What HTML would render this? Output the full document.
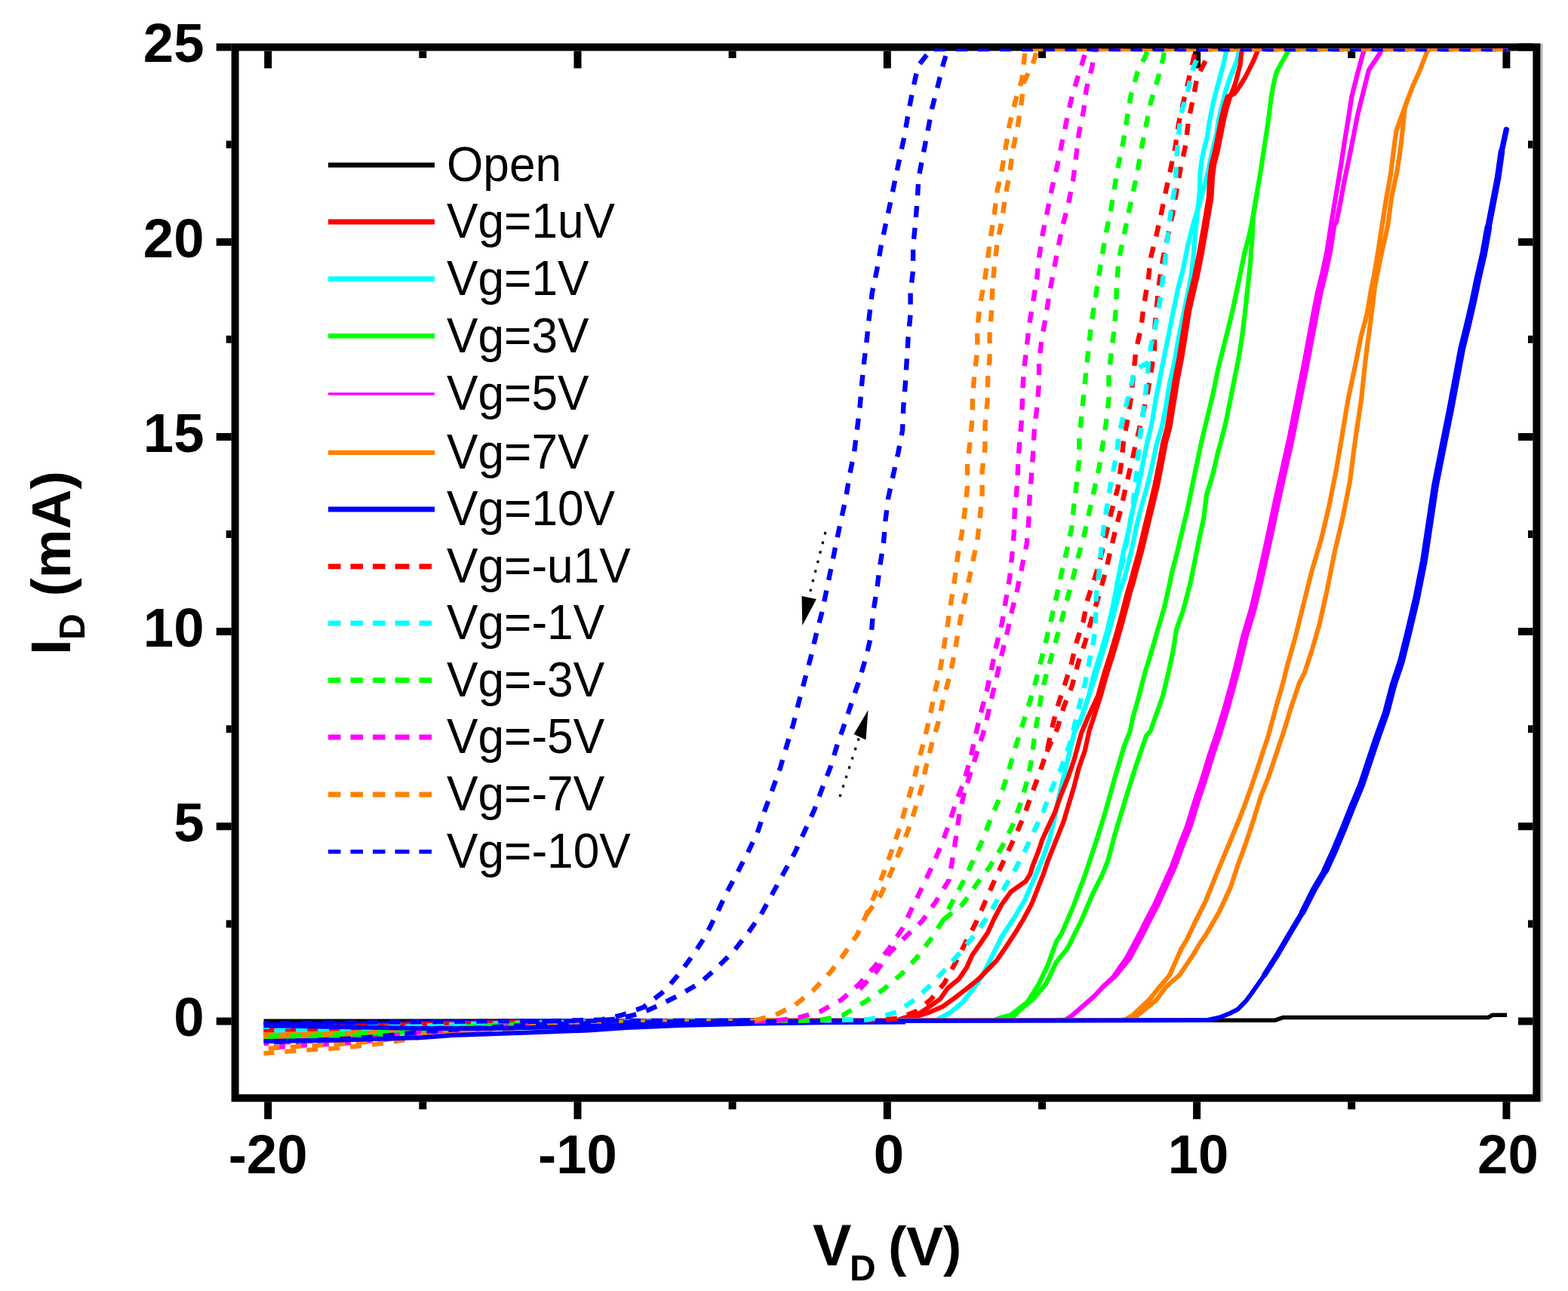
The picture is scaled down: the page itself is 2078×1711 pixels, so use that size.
<!DOCTYPE html>
<html><head><meta charset="utf-8"><title>I-V curves</title>
<style>
html,body{margin:0;padding:0;background:#fff;}
body{width:2078px;height:1711px;overflow:hidden;}
svg{display:block;}
.tl{font-family:"Liberation Sans",Arial,sans-serif;font-weight:bold;font-size:72.5px;fill:#000;}
.lg{font-family:"Liberation Sans",Arial,sans-serif;font-weight:normal;font-size:65.2px;fill:#000;}
.at{font-family:"Liberation Sans",Arial,sans-serif;font-weight:bold;font-size:73px;fill:#000;}
.sub{font-size:48px;}
</style></head>
<body>
<svg width="2078" height="1711" viewBox="0 0 2078 1711">
<rect width="2078" height="1711" fill="#fff"/>
<rect x="2041.2" y="57.8" width="3.4" height="1402.1" fill="#bdbdbd"/><rect x="311.6" y="62.5" width="1724.8" height="1392.8" fill="none" stroke="#000" stroke-width="10" stroke-linejoin="miter"/><path d="M355.2,1460.2V1483.2M355.2,67.4V90.4M560.3,1460.2V1470.2M560.3,67.4V76.9M765.5,1460.2V1483.2M765.5,67.4V90.4M970.6,1460.2V1470.2M970.6,67.4V76.9M1175.8,1460.2V1483.2M1175.8,67.4V90.4M1381.0,1460.2V1470.2M1381.0,67.4V76.9M1586.1,1460.2V1483.2M1586.1,67.4V90.4M1791.2,1460.2V1470.2M1791.2,67.4V76.9M1996.4,1460.2V1483.2M1996.4,67.4V90.4M306.7,1353.5H286.7M2031.5,1353.5H2012.0M306.7,1224.4H299.7M2031.5,1224.4H2025.0M306.7,1095.3H286.7M2031.5,1095.3H2012.0M306.7,966.2H299.7M2031.5,966.2H2025.0M306.7,837.1H286.7M2031.5,837.1H2012.0M306.7,708.0H299.7M2031.5,708.0H2025.0M306.7,578.9H286.7M2031.5,578.9H2012.0M306.7,449.8H299.7M2031.5,449.8H2025.0M306.7,320.7H286.7M2031.5,320.7H2012.0M306.7,191.6H299.7M2031.5,191.6H2025.0M306.7,62.5H286.7M2031.5,62.5H2012.0" stroke="#000" stroke-width="10" fill="none"/>
<defs><clipPath id="pc"><rect x="317" y="64.4" width="1714" height="1386"/></clipPath></defs>
<g fill="none" stroke-linejoin="round" stroke-linecap="butt" clip-path="url(#pc)">
<polyline points="349.5,1353.3 1690.0,1352.2 1700.0,1348.6 1972.0,1348.6 1978.0,1345.2 1997.0,1345.2" stroke="#000000" stroke-width="5.5"/>
<polyline points="349.5,1364.0 400.0,1363.0 450.0,1362.2 500.0,1360.8 560.0,1358.4 620.0,1356.6 700.0,1354.8 800.0,1353.7 900.0,1353.1 1000.0,1352.7 1100.0,1352.5" stroke="#ff0000" stroke-width="6.0" stroke-dashoffset="0.0"/>
<polyline points="349.5,1366.0 400.0,1364.8 450.0,1363.8 500.0,1362.2 560.0,1359.4 620.0,1357.4 700.0,1355.2 800.0,1353.8 900.0,1353.2 1000.0,1352.8 1100.0,1352.5" stroke="#ff0000" stroke-width="6.0" stroke-dashoffset="7.3"/>
<polyline points="349.5,1363.0 400.0,1362.1 450.0,1361.3 500.0,1360.1 560.0,1357.9 620.0,1356.3 700.0,1354.6 800.0,1353.5 900.0,1353.0 1000.0,1352.7 1100.0,1352.5" stroke="#00ffff" stroke-width="6.0" stroke-dashoffset="14.6"/>
<polyline points="349.5,1367.0 400.0,1365.7 450.0,1364.7 500.0,1362.9 560.0,1359.9 620.0,1357.7 700.0,1355.4 800.0,1354.0 900.0,1353.2 1000.0,1352.8 1100.0,1352.5" stroke="#00ffff" stroke-width="6.0" stroke-dashoffset="21.9"/>
<polyline points="349.5,1372.0 400.0,1370.2 450.0,1368.9 500.0,1366.5 560.0,1362.4 620.0,1359.5 700.0,1356.4 800.0,1354.5 900.0,1353.5 1000.0,1352.9 1100.0,1352.5" stroke="#00ff00" stroke-width="6.0" stroke-dashoffset="0.2"/>
<polyline points="349.5,1378.0 400.0,1375.7 450.0,1373.9 500.0,1370.9 560.0,1365.5 620.0,1361.7 700.0,1357.6 800.0,1355.0 900.0,1353.8 1000.0,1353.0 1100.0,1352.5" stroke="#00ff00" stroke-width="6.0" stroke-dashoffset="7.5"/>
<polyline points="349.5,1369.0 400.0,1367.5 450.0,1366.4 500.0,1364.4 560.0,1360.9 620.0,1358.4 700.0,1355.8 800.0,1354.2 900.0,1353.3 1000.0,1352.8 1100.0,1352.5" stroke="#ff00ff" stroke-width="6.0" stroke-dashoffset="14.8"/>
<polyline points="349.5,1372.0 400.0,1370.2 450.0,1368.9 500.0,1366.5 560.0,1362.4 620.0,1359.5 700.0,1356.4 800.0,1354.5 900.0,1353.5 1000.0,1352.9 1100.0,1352.5" stroke="#ff00ff" stroke-width="6.0" stroke-dashoffset="22.1"/>
<polyline points="349.5,1371.0 400.0,1369.3 450.0,1368.0 500.0,1365.8 560.0,1361.9 620.0,1359.2 700.0,1356.2 800.0,1354.3 900.0,1353.4 1000.0,1352.9 1100.0,1352.5" stroke="#ff8000" stroke-width="6.0" stroke-dashoffset="0.4"/>
<polyline points="349.5,1375.0 400.0,1373.0 450.0,1371.4 500.0,1368.7 560.0,1364.0 620.0,1360.6 700.0,1357.0 800.0,1354.8 900.0,1353.6 1000.0,1353.0 1100.0,1352.5" stroke="#ff8000" stroke-width="6.0" stroke-dashoffset="7.7"/>
<polyline points="349.5,1358.0 400.0,1357.5 450.0,1357.1 500.0,1356.5 560.0,1355.3 620.0,1354.5 700.0,1353.6 800.0,1353.0 900.0,1352.8 1000.0,1352.6 1100.0,1352.5" stroke="#0000ff" stroke-width="6.0" stroke-dashoffset="15.0"/>
<polyline points="349.5,1362.0 400.0,1361.1 450.0,1360.5 500.0,1359.3 560.0,1357.3 620.0,1355.9 700.0,1354.4 800.0,1353.5 900.0,1353.0 1000.0,1352.7 1100.0,1352.5" stroke="#ff0000" stroke-width="6.0" stroke-dasharray="15 14" stroke-dashoffset="22.3"/>
<polyline points="349.5,1365.0 400.0,1363.9 450.0,1363.0 500.0,1361.5 560.0,1358.9 620.0,1357.0 700.0,1355.0 800.0,1353.8 900.0,1353.1 1000.0,1352.8 1100.0,1352.5" stroke="#ff0000" stroke-width="6.0" stroke-dasharray="15 14" stroke-dashoffset="0.6"/>
<polyline points="349.5,1361.0 400.0,1360.2 450.0,1359.6 500.0,1358.6 560.0,1356.8 620.0,1355.6 700.0,1354.2 800.0,1353.3 900.0,1352.9 1000.0,1352.7 1100.0,1352.5" stroke="#00ffff" stroke-width="6.0" stroke-dasharray="15 14" stroke-dashoffset="7.9"/>
<polyline points="349.5,1366.0 400.0,1364.8 450.0,1363.8 500.0,1362.2 560.0,1359.4 620.0,1357.4 700.0,1355.2 800.0,1353.8 900.0,1353.2 1000.0,1352.8 1100.0,1352.5" stroke="#00ffff" stroke-width="6.0" stroke-dasharray="15 14" stroke-dashoffset="15.2"/>
<polyline points="349.5,1374.0 400.0,1372.1 450.0,1370.6 500.0,1368.0 560.0,1363.5 620.0,1360.2 700.0,1356.8 800.0,1354.7 900.0,1353.6 1000.0,1352.9 1100.0,1352.5" stroke="#00ff00" stroke-width="6.0" stroke-dasharray="15 14" stroke-dashoffset="22.5"/>
<polyline points="349.5,1379.0 400.0,1376.6 450.0,1374.8 500.0,1371.6 560.0,1366.0 620.0,1362.0 700.0,1357.8 800.0,1355.2 900.0,1353.8 1000.0,1353.0 1100.0,1352.5" stroke="#00ff00" stroke-width="6.0" stroke-dasharray="15 14" stroke-dashoffset="0.8"/>
<polyline points="349.5,1383.0 400.0,1380.3 450.0,1378.1 500.0,1374.5 560.0,1368.1 620.0,1363.5 700.0,1358.6 800.0,1355.5 900.0,1354.0 1000.0,1353.1 1100.0,1352.5" stroke="#ff00ff" stroke-width="6.0" stroke-dasharray="15 14" stroke-dashoffset="8.1"/>
<polyline points="349.5,1389.0 400.0,1385.7 450.0,1383.2 500.0,1378.8 560.0,1371.1 620.0,1365.6 700.0,1359.8 800.0,1356.2 900.0,1354.3 1000.0,1353.2 1100.0,1352.5" stroke="#ff00ff" stroke-width="6.0" stroke-dasharray="15 14" stroke-dashoffset="15.4"/>
<polyline points="349.5,1390.0 400.0,1386.6 450.0,1384.0 500.0,1379.5 560.0,1371.6 620.0,1366.0 700.0,1360.0 800.0,1356.2 900.0,1354.4 1000.0,1353.2 1100.0,1352.5" stroke="#ff8000" stroke-width="6.0" stroke-dasharray="15 14" stroke-dashoffset="22.7"/>
<polyline points="349.5,1396.0 400.0,1392.1 450.0,1389.0 500.0,1383.8 560.0,1374.7 620.0,1368.2 700.0,1361.2 800.0,1356.8 900.0,1354.7 1000.0,1353.4 1100.0,1352.5" stroke="#ff8000" stroke-width="6.0" stroke-dasharray="15 14" stroke-dashoffset="1.0"/>
<polyline points="349.5,1356.0 400.0,1355.7 450.0,1355.4 500.0,1355.0 560.0,1354.3 620.0,1353.8 700.0,1353.2 800.0,1352.8 900.0,1352.7 1000.0,1352.6 1100.0,1352.5" stroke="#0000ff" stroke-width="6.0" stroke-dasharray="15 14" stroke-dashoffset="8.3"/>
<polyline points="349.5,1382.0 400.0,1379.3 450.0,1377.3 500.0,1373.7 560.0,1367.5 620.0,1363.1 700.0,1358.4 800.0,1355.5 900.0,1354.0 1000.0,1353.1 1100.0,1352.5" stroke="#0000ff" stroke-width="6.0" stroke-dasharray="15 14" stroke-dashoffset="15.6"/>
<polyline points="349.5,1359.0 450.0,1361.0 560.0,1363.0 650.0,1363.0 750.0,1361.0 850.0,1358.0 1000.0,1355.5 1100.0,1354.5 1200.0,1354.0" stroke="#0000ff" stroke-width="6.0"/>
<polyline points="349.5,1380.0 450.0,1378.5 560.0,1375.0 600.0,1372.0 700.0,1368.5 780.0,1365.5 830.0,1362.0 900.0,1359.0 1000.0,1356.5 1100.0,1355.0 1200.0,1354.5" stroke="#0000ff" stroke-width="6.0"/>
<polyline points="1000.0,1352.5 1240.0,1352.0 1249.0,1347.7 1260.0,1341.5 1276.0,1328.0 1290.5,1309.6 1303.0,1291.2 1315.0,1266.6 1327.3,1242.0 1343.3,1217.5 1358.0,1193.0 1371.5,1162.3 1382.7,1135.3 1390.9,1112.0 1397.9,1082.7 1403.8,1053.5 1410.8,1024.3 1417.8,995.1 1424.2,968.7 1433.5,951.2 1442.9,922.0 1449.9,892.7 1459.2,863.5 1467.4,835.5 1474.4,805.1 1480.4,775.0 1482.9,761.2 1488.7,732.0 1495.7,702.7 1501.6,673.5 1508.6,644.3 1514.4,615.1 1519.5,590.0 1526.7,560.0 1531.9,527.9 1537.0,502.2 1543.4,470.0 1548.6,444.3 1555.0,412.1 1561.4,381.3 1567.9,356.7 1574.2,325.2 1580.5,300.0 1588.0,275.0 1598.0,240.0 1605.2,207.2 1608.4,191.5 1612.6,175.7 1614.7,159.9 1617.8,146.2 1621.0,133.6 1624.2,121.0 1628.4,107.3 1633.6,93.7 1638.9,81.0 1642.0,68.4 1643.5,65.0 1998.5,65.0" stroke="#00ffff" stroke-width="6.2"/>
<polyline points="1430.0,960.0 1442.0,925.0 1452.0,895.0 1461.0,866.0 1470.0,836.0 1478.0,806.0 1485.0,780.0 1489.9,767.0 1494.6,749.5 1501.6,720.3 1506.2,696.9 1512.1,673.5 1520.3,644.3 1527.3,615.1 1533.1,587.0 1539.6,566.4 1544.7,540.7 1549.9,508.6 1556.3,480.3 1561.4,450.7 1567.9,418.6 1575.6,381.3 1578.5,365.0 1581.5,341.0 1583.6,314.7 1586.8,283.1 1590.0,251.6 1590.5,228.3 1592.6,212.5 1595.8,196.7 1600.0,181.0 1602.1,165.2 1605.2,149.4 1608.4,133.6 1612.6,117.8 1616.8,102.1 1621.0,86.3 1625.2,68.4 1625.8,65.0" stroke="#00ffff" stroke-width="6.2"/>
<polyline points="1190.0,1352.0 1198.0,1349.0 1217.0,1344.0 1232.0,1334.0 1246.0,1324.0 1256.0,1309.6 1271.0,1297.3 1281.0,1282.6 1288.0,1266.6 1299.0,1250.7 1309.0,1236.0 1317.5,1217.5 1327.3,1199.0 1339.6,1182.0 1359.3,1168.0 1365.2,1158.7 1368.7,1147.0 1375.7,1129.5 1381.6,1112.0 1389.7,1094.4 1397.9,1076.9 1406.1,1053.5 1415.5,1030.1 1423.6,1006.8 1433.0,971.7 1441.7,951.0 1455.1,922.0 1463.3,892.7 1472.6,863.5 1480.8,835.5 1489.0,805.1 1494.2,785.0 1498.2,772.0 1502.7,755.0 1509.1,732.0 1516.1,702.7 1523.2,673.5 1530.2,644.3 1536.0,615.1 1541.2,587.0 1546.8,566.4 1551.9,534.3 1557.1,502.2 1562.2,476.4 1567.4,444.3 1572.5,412.1 1576.6,393.5 1582.9,367.2 1589.2,335.7 1595.5,298.9 1601.8,262.0 1603.4,233.5 1605.5,217.8 1609.7,202.0 1612.9,186.2 1616.0,170.4 1619.2,154.7 1622.4,142.0 1626.6,128.4 1635.7,124.2 1639.9,118.9 1645.2,110.5 1650.4,102.1 1655.7,91.6 1661.0,81.0 1666.2,68.4 1667.0,65.0" stroke="#ff0000" stroke-width="6.2"/>
<polyline points="1000.0,1352.5 1190.0,1352.2 1198.0,1350.0 1217.0,1346.4 1232.0,1341.5 1249.0,1334.2 1266.0,1322.0 1282.0,1309.6 1297.0,1297.3 1309.0,1285.0 1321.0,1272.8 1333.5,1254.4 1345.7,1236.0 1356.8,1217.5 1367.8,1196.7 1376.4,1174.6 1383.0,1158.0 1388.6,1141.2 1395.6,1123.6 1402.6,1106.1 1409.6,1088.6 1416.6,1065.2 1423.6,1041.8 1429.5,1018.4 1437.7,995.1 1443.5,968.7 1449.3,951.2 1458.7,922.0 1466.9,892.7 1476.2,863.5 1484.4,835.5 1492.6,805.1 1497.8,785.0 1501.8,772.0 1506.3,755.0 1512.7,732.0 1519.7,702.7 1526.8,673.5 1533.8,644.3 1539.6,615.1 1544.8,587.0 1550.4,566.4 1555.5,534.3 1560.7,502.2 1565.8,476.4 1571.0,444.3 1576.1,412.1 1580.2,393.5 1586.5,367.2 1592.8,335.7 1599.1,298.9 1605.4,262.0 1607.0,233.5 1609.1,217.8 1613.3,202.0 1616.5,186.2 1619.6,170.4 1622.8,154.7 1626.0,142.0 1630.2,128.4 1634.4,117.8 1637.5,109.4 1640.7,96.8 1643.5,86.3 1645.5,68.4 1646.5,65.0 1998.5,65.0" stroke="#ff0000" stroke-width="6.2"/>
<polyline points="1000.0,1352.5 1318.0,1352.0 1327.0,1348.5 1339.6,1345.2 1361.7,1328.0 1376.4,1304.7 1388.7,1278.9 1399.8,1248.2 1407.1,1236.8 1422.2,1201.6 1437.3,1161.4 1452.4,1116.1 1464.9,1075.9 1477.5,1030.7 1490.1,988.0 1497.8,968.7 1501.3,951.2 1509.5,922.0 1517.0,892.7 1526.0,863.5 1534.0,835.5 1543.0,805.1 1550.4,772.3 1552.5,761.2 1560.0,732.0 1567.0,702.7 1574.0,673.5 1580.0,644.3 1586.0,615.1 1593.0,582.3 1600.0,553.6 1607.7,521.4 1614.2,489.3 1620.6,463.6 1627.0,437.9 1633.4,412.1 1639.0,385.0 1644.0,361.6 1649.0,336.4 1655.7,311.3 1660.7,286.2 1665.8,256.0 1670.8,225.9 1675.8,193.2 1680.8,160.5 1684.5,130.0 1688.0,110.0 1692.0,95.0 1697.3,85.1 1706.0,70.0 1709.0,65.0 1998.5,65.0" stroke="#00ff00" stroke-width="6.2"/>
<polyline points="1340.0,1350.0 1352.0,1338.0 1369.1,1324.3 1386.3,1303.5 1399.8,1275.2 1414.7,1256.9 1432.3,1221.7 1447.3,1186.5 1461.1,1158.7 1468.1,1141.2 1477.4,1106.1 1492.6,1055.8 1505.2,1015.6 1519.0,975.4 1524.7,968.7 1532.9,945.3 1541.1,922.0 1548.1,892.7 1554.5,863.5 1559.0,834.3 1567.7,810.0 1577.5,772.9 1583.4,743.6 1589.2,714.4 1595.1,687.5 1599.0,656.0 1608.0,625.8 1614.2,598.6 1618.0,585.7 1624.4,560.0 1629.6,534.3 1636.0,502.2 1641.2,476.4 1646.3,444.3 1650.2,412.1 1653.5,381.3 1657.0,349.0 1659.5,315.0 1660.7,286.2 1665.8,256.0" stroke="#00ff00" stroke-width="6.2"/>
<polyline points="1000.0,1352.5 1400.0,1352.0 1412.0,1351.5 1420.2,1346.3 1442.3,1327.2 1450.3,1320.0 1462.4,1307.1 1475.3,1295.0 1482.5,1284.5 1492.8,1270.0 1502.6,1251.8 1512.0,1234.0 1521.0,1216.0 1530.0,1199.1 1540.1,1176.4 1552.7,1148.8 1562.7,1121.2 1572.8,1096.0 1582.8,1063.4 1592.9,1033.2 1602.9,1000.5 1613.0,970.4 1623.0,937.7 1632.0,905.0 1638.5,880.0 1647.0,844.4 1658.2,806.7 1668.3,764.0 1678.3,718.8 1688.4,671.0 1698.4,625.8 1708.5,580.5 1718.5,530.3 1728.0,482.5 1735.0,445.0 1741.2,411.8 1746.2,386.7 1752.5,361.6 1758.8,331.4 1763.8,298.8 1768.8,268.6 1772.6,246.0 1777.6,215.8 1781.4,190.7 1786.4,160.5 1791.4,127.9 1799.0,97.7 1806.5,70.0 1808.0,65.0 1998.5,65.0" stroke="#ff00ff" stroke-width="6.2"/>
<polyline points="1462.4,1307.1 1476.8,1295.0 1485.5,1284.5 1497.3,1270.0 1507.1,1251.8 1516.5,1234.0 1525.5,1216.0 1534.5,1199.1 1544.6,1176.4 1557.2,1148.8 1567.2,1121.2 1577.3,1096.0 1587.3,1063.4 1597.4,1033.2 1607.4,1000.5 1617.5,970.4 1627.5,937.7 1636.5,905.0 1643.0,880.0 1651.5,844.4 1662.7,806.7 1672.8,764.0 1682.8,718.8 1692.9,671.0 1702.9,625.8 1713.0,580.5 1723.0,530.3 1732.5,482.5 1739.5,445.0 1745.7,411.8 1750.7,386.7 1757.0,361.6 1763.3,331.4 1768.3,298.8 1771.3,293.7 1776.3,268.6 1781.4,241.0 1787.7,210.8 1792.7,185.7 1799.0,153.0 1806.5,122.8 1814.0,92.7 1829.1,70.0 1831.0,65.0" stroke="#ff00ff" stroke-width="6.2"/>
<polyline points="1000.0,1352.5 1485.0,1352.0 1492.0,1351.0 1500.3,1346.3 1524.0,1324.0 1535.0,1310.0 1550.0,1292.5 1565.2,1258.0 1572.0,1247.0 1582.8,1224.2 1597.9,1194.0 1613.0,1156.3 1625.6,1126.2 1638.1,1096.0 1648.2,1070.9 1660.7,1035.7 1670.8,1005.6 1680.8,975.4 1690.9,937.7 1701.0,902.5 1706.0,882.1 1716.0,846.9 1726.0,806.7 1738.6,756.4 1751.2,713.7 1761.3,671.0 1771.3,620.7 1778.9,575.5 1786.4,530.3 1796.4,482.5 1804.0,444.5 1811.5,416.9 1816.6,386.7 1821.6,361.6 1826.6,331.4 1831.6,298.8 1836.7,266.1 1843.0,230.9 1846.7,200.7 1850.5,173.1 1856.8,155.5 1864.3,135.4 1871.8,115.3 1881.9,92.7 1890.7,70.0 1892.5,65.0 1998.5,65.0" stroke="#ff8000" stroke-width="6.2"/>
<polyline points="1500.0,1351.5 1512.0,1342.0 1532.8,1325.0 1545.0,1308.0 1563.0,1292.5 1580.3,1266.9 1590.4,1250.0 1597.9,1239.3 1615.5,1209.1 1630.6,1176.4 1640.6,1146.3 1650.7,1118.6 1660.7,1088.5 1670.8,1055.8 1680.8,1030.7 1690.9,1000.5 1701.0,970.4 1711.0,937.7 1722.0,905.0 1728.6,892.2 1738.6,862.0 1748.7,826.8 1758.8,781.6 1768.8,731.3 1778.9,688.6 1788.9,638.3 1796.4,580.5 1804.0,530.3 1809.0,482.5 1811.5,462.1 1816.6,424.4 1822.0,380.0 1830.0,340.0 1839.2,298.8 1844.2,261.1 1851.7,225.9 1856.8,190.7 1861.8,142.9 1866.0,130.0" stroke="#ff8000" stroke-width="6.2"/>
<polyline points="1000.0,1354.0 1100.0,1353.0 1600.0,1352.0 1615.4,1348.8 1630.0,1343.0 1640.4,1337.6 1650.7,1327.2 1658.2,1317.2 1675.8,1292.1 1693.4,1264.4 1711.0,1234.3 1726.1,1209.1 1741.2,1179.0 1756.2,1153.8 1768.8,1126.2 1781.4,1096.0 1791.4,1070.9 1804.0,1040.7 1814.0,1010.6 1824.1,980.4 1836.7,945.2 1846.7,907.2 1856.8,877.1 1866.8,836.9 1876.9,794.1 1886.9,743.9 1894.5,693.6 1902.0,643.4 1912.0,593.1 1922.1,542.8 1932.0,490.0 1937.2,462.1 1944.7,432.0 1952.3,399.3 1958.6,369.1 1966.1,336.4 1972.4,301.3 1978.7,268.6 1985.0,235.9 1990.0,200.7 1996.3,171.8" stroke="#0000ff" stroke-width="6.0"/>
<polyline points="1675.8,1292.1 1693.4,1264.4 1711.0,1234.3 1726.1,1209.1 1741.2,1179.0 1756.2,1153.8 1768.8,1126.2 1781.4,1096.0 1791.4,1070.9 1804.0,1040.7 1814.0,1010.6 1824.1,980.4 1836.7,945.2 1846.7,907.2 1856.8,877.1 1866.8,836.9 1876.9,794.1 1886.9,743.9 1894.5,693.6 1902.0,643.4 1912.0,593.1 1922.1,542.8 1932.0,490.0 1937.2,462.1 1944.7,432.0 1952.3,399.3 1958.6,369.1 1966.1,336.4 1972.4,301.3 1978.7,268.6 1985.0,235.9 1990.0,200.7 1996.3,171.8" stroke="#0000ff" stroke-width="7.4" stroke-linecap="round"/>
<polyline points="1726.1,1209.1 1741.2,1179.0 1756.2,1153.8 1768.8,1126.2 1781.4,1096.0 1791.4,1070.9 1804.0,1040.7 1814.0,1010.6 1824.1,980.4 1836.7,945.2 1846.7,907.2 1856.8,877.1 1866.8,836.9 1876.9,794.1 1886.9,743.9 1894.5,693.6 1902.0,643.4 1912.0,593.1 1922.1,542.8 1932.0,490.0 1937.2,462.1 1944.7,432.0 1952.3,399.3 1958.6,369.1 1966.1,336.4 1972.4,301.3 1978.7,268.6 1985.0,235.9 1990.0,200.7" stroke="#0000ff" stroke-width="8.6" stroke-linecap="round"/>
<polyline points="1756.2,1153.8 1768.8,1126.2 1781.4,1096.0 1791.4,1070.9 1804.0,1040.7 1814.0,1010.6 1824.1,980.4 1836.7,945.2 1846.7,907.2 1856.8,877.1 1866.8,836.9 1876.9,794.1 1886.9,743.9 1894.5,693.6 1902.0,643.4 1912.0,593.1 1922.1,542.8 1932.0,490.0 1937.2,462.1 1944.7,432.0 1952.3,399.3 1958.6,369.1 1966.1,336.4 1972.4,301.3" stroke="#0000ff" stroke-width="9.8" stroke-linecap="round"/>
<polyline points="1000.0,1353.0 1120.0,1352.0 1165.0,1351.5 1190.0,1350.0 1215.0,1340.0 1234.0,1324.3 1251.2,1303.5 1265.9,1276.5 1280.7,1247.0 1293.0,1223.7 1306.5,1193.0 1320.0,1162.3 1331.3,1138.8 1344.2,1110.8 1357.0,1081.6 1366.4,1054.7 1376.9,1026.6 1387.4,996.2 1393.8,966.4 1400.8,938.3 1410.1,910.3 1419.5,881.0 1426.5,851.8 1435.8,822.6 1441.7,793.4 1451.3,764.7 1459.5,735.5 1466.5,705.1 1473.5,675.8 1481.7,645.5 1485.8,615.1 1489.0,585.0 1494.6,554.9 1499.1,525.3 1502.3,494.4 1505.5,463.6 1512.3,434.0 1515.8,404.4 1521.3,374.1 1525.0,341.5 1532.6,311.3 1538.8,283.7 1545.2,252.3 1551.5,223.4 1557.8,193.2 1561.6,165.6 1567.9,136.7 1575.4,105.2 1582.9,72.6 1584.5,65.0 1998.5,65.0" stroke="#ff0000" stroke-width="6.4" stroke-dasharray="15 14"/>
<polyline points="1387.4,996.2 1401.0,966.0 1410.1,936.0 1420.7,909.1 1428.8,878.7 1438.2,850.7 1446.4,821.4 1456.9,787.5 1464.2,761.2 1471.2,732.0 1478.2,702.7 1485.8,673.5 1492.2,644.3 1499.2,615.1 1505.5,587.0 1512.6,557.4 1520.3,524.0 1525.4,493.2 1529.9,463.6 1530.1,437.0 1533.0,405.0 1536.3,374.1 1541.4,341.5 1547.6,313.8 1553.9,283.7 1559.7,251.0 1564.7,222.1 1571.6,190.7 1574.8,160.5 1581.0,131.6 1586.7,101.5 1600.5,75.1 1602.5,65.0" stroke="#ff0000" stroke-width="6.4" stroke-dasharray="15 14"/>
<polyline points="1000.0,1353.0 1100.0,1352.0 1150.5,1351.4 1188.6,1341.5 1213.1,1324.3 1232.8,1305.9 1256.1,1281.4 1275.8,1258.0 1295.4,1234.7 1312.6,1208.9 1327.3,1183.1 1343.0,1156.4 1357.0,1130.7 1369.9,1102.6 1382.7,1075.7 1393.3,1046.5 1406.1,1018.4 1418.0,985.0 1428.0,945.0 1438.0,905.0 1445.0,870.0 1449.9,846.0 1452.2,816.8 1452.8,787.5 1456.6,757.7 1459.5,726.1 1463.0,696.9 1467.7,666.5 1472.9,636.1 1479.4,604.5 1483.0,575.4 1490.1,545.9 1498.4,515.0 1503.6,490.0 1522.2,480.3 1525.4,458.4 1531.9,428.9 1538.3,392.9 1541.0,370.0 1545.1,336.4 1548.9,301.3 1553.0,271.1 1557.8,243.5 1559.0,213.3 1561.6,180.6 1565.3,150.5 1574.1,120.3 1581.7,88.9 1590.5,68.8 1592.0,65.0 1998.5,65.0" stroke="#00ffff" stroke-width="6.4" stroke-dasharray="15 14"/>
<polyline points="1522.2,480.3 1519.0,513.7 1515.2,544.6 1511.3,574.2 1508.6,601.0 1505.1,636.1 1501.6,667.7 1496.9,696.9 1492.0,725.0 1487.0,750.0 1480.0,775.0" stroke="#00ffff" stroke-width="6.4" stroke-dasharray="15 14"/>
<polyline points="1000.0,1353.0 1060.0,1352.5 1090.4,1351.4 1117.9,1345.1 1147.0,1327.2 1169.6,1312.2 1193.5,1292.1 1214.9,1269.4 1233.7,1244.3 1250.1,1219.2 1263.9,1191.5 1277.7,1166.4 1290.3,1138.8 1303.2,1110.8 1313.8,1082.7 1326.6,1053.5 1336.0,1024.3 1344.2,995.1 1353.5,965.8 1362.8,936.0 1371.6,906.8 1379.2,877.5 1386.8,847.1 1393.8,817.9 1400.8,787.5 1406.9,758.8 1413.9,729.6 1420.3,699.2 1423.2,670.0 1426.8,640.8 1430.3,609.2 1430.3,582.3 1433.5,548.4 1436.7,518.9 1439.9,486.7 1443.1,457.1 1446.4,427.6 1452.1,392.9 1456.1,366.6 1461.2,335.2 1466.2,306.3 1472.5,276.1 1477.5,246.0 1482.5,217.1 1488.8,186.9 1493.8,155.5 1498.9,125.3 1507.6,95.2 1518.8,72.6 1521.0,65.0 1998.5,65.0" stroke="#00ff00" stroke-width="6.4" stroke-dasharray="15 14"/>
<polyline points="1250.0,1219.0 1275.2,1199.1 1292.8,1173.9 1311.6,1148.8 1327.8,1122.5 1341.8,1094.4 1352.3,1065.2 1361.7,1033.6 1367.5,1004.4 1371.0,975.2 1376.2,945.3 1380.9,916.1 1388.5,886.9 1397.3,856.5 1405.5,827.3 1413.6,796.9 1421.5,768.2 1428.5,739.0 1436.7,709.7 1443.1,680.5 1450.1,649.0 1456.6,619.7 1461.8,587.0 1466.2,557.9 1469.5,527.9 1469.5,495.7 1472.7,467.4 1476.6,436.6 1479.1,405.7 1480.0,375.4 1482.5,345.2 1488.8,315.1 1495.1,284.9 1501.4,256.0 1507.5,227.1 1512.6,197.0 1518.8,166.2 1525.1,135.4 1533.9,106.5 1541.5,77.6 1543.5,65.0" stroke="#00ff00" stroke-width="6.4" stroke-dasharray="15 14"/>
<polyline points="1000.0,1353.5 1030.0,1352.5 1057.9,1348.9 1087.9,1340.1 1115.6,1324.7 1138.2,1304.6 1158.3,1282.0 1178.4,1256.9 1196.0,1230.5 1208.0,1205.0 1222.4,1175.2 1235.0,1148.8 1247.5,1119.9 1257.6,1092.3 1267.0,1062.9 1277.5,1036.0 1285.7,1006.8 1292.7,975.2 1299.1,947.8 1307.9,915.1 1314.2,885.9 1320.4,855.7 1328.0,825.6 1333.0,795.4 1338.0,766.5 1341.3,735.1 1343.8,706.2 1344.8,674.8 1348.1,643.4 1349.3,613.2 1351.3,584.3 1354.4,551.6 1354.9,522.7 1357.0,490.0 1360.6,460.9 1363.9,430.7 1369.0,400.5 1374.0,370.4 1377.0,341.5 1382.0,308.8 1388.3,278.6 1394.1,249.7 1400.9,220.8 1407.1,190.7 1413.4,160.5 1419.7,131.6 1428.5,101.5 1437.3,73.8 1440.0,65.0 1998.5,65.0" stroke="#ff00ff" stroke-width="6.4" stroke-dasharray="15 14"/>
<polyline points="1139.5,1310.9 1160.8,1288.3 1179.7,1261.9 1201.1,1240.5 1222.4,1220.4 1240.0,1195.3 1257.6,1166.4 1262.3,1138.8 1267.0,1109.6 1271.7,1076.9 1278.7,1047.7 1288.1,1018.4 1297.4,989.2 1305.6,963.5 1312.9,930.2 1320.4,899.7 1326.7,870.8 1334.3,840.6 1340.5,811.7 1348.1,781.6 1354.4,751.4 1360.6,721.3 1363.2,692.4 1364.4,661.0 1366.9,630.8 1368.9,603.1 1370.7,570.5 1374.5,537.8 1377.0,507.6 1377.0,478.4 1380.8,448.3 1386.5,416.9 1390.8,388.0 1396.6,357.8 1402.1,328.9 1408.4,298.8 1415.9,269.9 1422.2,238.4 1426.0,208.3 1429.8,176.9 1436.0,146.7 1439.8,117.8 1447.3,88.9 1451.0,65.0" stroke="#ff00ff" stroke-width="6.4" stroke-dasharray="15 14"/>
<polyline points="1000.3,1352.7 1027.8,1345.1 1052.9,1332.6 1077.9,1312.4 1100.5,1288.5 1118.0,1265.5 1135.6,1239.5 1148.1,1212.7 1160.8,1182.7 1172.2,1153.8 1182.2,1126.2 1192.3,1097.3 1201.1,1067.1 1209.9,1038.2 1217.4,1008.1 1225.4,979.2 1232.5,949.0 1238.8,917.6 1245.8,888.4 1250.8,858.2 1255.8,828.1 1260.1,799.2 1265.1,769.0 1268.9,738.9 1274.4,708.7 1278.5,678.5 1282.0,645.9 1282.0,617.0 1285.3,588.1 1288.5,555.4 1289.0,525.2 1291.5,495.1 1295.3,464.6 1295.3,434.5 1298.6,404.3 1304.6,374.1 1308.6,345.2 1312.9,313.8 1317.9,282.4 1321.7,252.3 1328.0,223.4 1333.0,194.5 1338.0,164.3 1345.6,134.1 1354.4,105.2 1358.0,72.6 1359.0,65.0 1998.5,65.0" stroke="#ff8000" stroke-width="6.4" stroke-dasharray="15 14"/>
<polyline points="1148.1,1212.7 1167.1,1186.5 1179.7,1158.9 1191.0,1131.2 1202.3,1103.6 1212.4,1073.4 1221.2,1044.5 1227.4,1015.6 1235.0,985.4 1243.8,956.5 1250.1,926.4 1258.9,894.7 1265.1,865.8 1270.2,834.4 1275.9,805.5 1282.7,775.3 1289.0,745.1 1295.3,716.2 1298.6,686.1 1301.6,655.9 1301.6,624.5 1305.4,594.4 1305.4,564.2 1308.6,531.5 1309.1,502.6 1311.6,472.2 1311.6,443.3 1314.1,411.8 1315.4,380.4 1317.9,351.5 1321.7,321.4 1328.0,291.2 1332.2,259.8 1338.0,230.9 1341.8,200.7 1348.1,170.6 1353.1,140.4 1356.9,109.0 1369.4,82.6 1375.0,65.0" stroke="#ff8000" stroke-width="6.4" stroke-dasharray="15 14"/>
<polyline points="700.0,1354.0 797.6,1351.4 825.1,1345.1 852.7,1335.1 881.4,1312.6 901.5,1288.8 919.0,1265.0 935.2,1240.0 950.3,1210.0 963.0,1183.0 978.0,1155.0 991.0,1130.0 1003.8,1103.6 1013.8,1073.4 1023.9,1045.8 1033.9,1018.1 1042.7,988.0 1051.5,959.1 1059.0,928.9 1066.6,900.7 1074.9,869.5 1081.7,840.6 1089.2,811.7 1095.5,781.6 1101.8,751.4 1108.1,720.0 1114.4,689.9 1121.1,659.7 1125.7,630.8 1131.9,600.6 1135.7,570.5 1139.5,540.3 1142.0,510.2 1145.0,481.0 1148.8,449.5 1152.0,419.4 1155.8,388.0 1162.1,357.8 1167.1,328.9 1173.4,298.8 1180.0,268.6 1186.0,239.7 1192.3,209.5 1198.5,180.6 1204.1,148.0 1209.9,117.8 1216.6,87.6 1231.0,69.0 1233.0,65.0 1998.5,65.0" stroke="#0000ff" stroke-width="6.4" stroke-dasharray="15 14"/>
<polyline points="800.0,1352.0 820.1,1350.2 850.2,1342.6 872.7,1332.6 900.2,1318.9 927.7,1302.6 950.3,1282.6 972.8,1260.0 991.5,1236.3 1008.8,1211.6 1023.9,1184.0 1039.0,1156.3 1054.0,1128.7 1066.6,1101.1 1079.2,1073.4 1089.2,1045.8 1100.5,1016.9 1109.3,988.0 1119.4,959.1 1129.4,928.9 1139.0,900.5 1147.8,870.8 1154.6,841.9 1157.1,811.7 1162.1,781.6 1165.9,751.4 1170.9,720.0 1173.4,689.9 1177.2,659.7 1183.5,630.8 1190.2,600.6 1196.0,570.5 1197.3,539.1 1199.8,508.9 1201.5,481.0 1203.6,447.0 1206.6,416.9 1206.6,388.0 1210.1,357.8 1210.1,326.4 1213.1,296.2 1215.6,266.1 1217.4,235.9 1223.2,205.8 1229.2,175.6 1235.0,144.2 1242.5,115.3 1250.0,85.1 1256.0,65.0" stroke="#0000ff" stroke-width="6.4" stroke-dasharray="15 14"/>
</g>
<g class="tl">
<text x="270.5" y="1373.3" text-anchor="end">0</text>
<text x="270.5" y="1115.1" text-anchor="end">5</text>
<text x="270.5" y="856.9" text-anchor="end">10</text>
<text x="270.5" y="598.7" text-anchor="end">15</text>
<text x="270.5" y="340.5" text-anchor="end">20</text>
<text x="270.5" y="82.3" text-anchor="end">25</text>
<text x="355.1" y="1555" text-anchor="middle">-20</text>
<text x="765.4" y="1555" text-anchor="middle">-10</text>
<text x="1177.8" y="1555" text-anchor="middle">0</text>
<text x="1588.1" y="1555" text-anchor="middle">10</text>
<text x="1998.4" y="1555" text-anchor="middle">20</text>
</g>
<g fill="none">
<line x1="435" y1="218.7" x2="576" y2="218.7" stroke="#000000" stroke-width="6.6"/>
<text class="lg" fill="#000" transform="translate(592,240.1) scale(0.954,1)">Open</text>
<line x1="435" y1="294" x2="576" y2="294" stroke="#ff0000" stroke-width="7"/>
<text class="lg" fill="#000" transform="translate(592,315.4) scale(0.954,1)">Vg=1uV</text>
<line x1="435" y1="369.6" x2="576" y2="369.6" stroke="#00ffff" stroke-width="6.7"/>
<text class="lg" fill="#000" transform="translate(592,391.0) scale(0.954,1)">Vg=1V</text>
<line x1="435" y1="445.3" x2="576" y2="445.3" stroke="#00ff00" stroke-width="6.6"/>
<text class="lg" fill="#000" transform="translate(592,466.7) scale(0.954,1)">Vg=3V</text>
<line x1="435" y1="522" x2="576" y2="522" stroke="#ff00ff" stroke-width="3.5"/>
<text class="lg" fill="#000" transform="translate(592,543.4) scale(0.954,1)">Vg=5V</text>
<line x1="435" y1="599.8" x2="576" y2="599.8" stroke="#ff8000" stroke-width="6.3"/>
<text class="lg" fill="#000" transform="translate(592,621.2) scale(0.954,1)">Vg=7V</text>
<line x1="435" y1="675" x2="576" y2="675" stroke="#0000ff" stroke-width="6.9"/>
<text class="lg" fill="#000" transform="translate(592,696.4) scale(0.954,1)">Vg=10V</text>
<line x1="435" y1="750.7" x2="573" y2="750.7" stroke="#ff0000" stroke-width="7" stroke-dasharray="16.5 13 16.5 13 16.5 13 19 13 16.5 20"/>
<text class="lg" fill="#000" transform="translate(592,772.1) scale(0.954,1)">Vg=-u1V</text>
<line x1="435" y1="826" x2="573" y2="826" stroke="#00ffff" stroke-width="7" stroke-dasharray="16.5 13 16.5 13 16.5 13 19 13 16.5 20"/>
<text class="lg" fill="#000" transform="translate(592,847.4) scale(0.954,1)">Vg=-1V</text>
<line x1="435" y1="901.5" x2="573" y2="901.5" stroke="#00ff00" stroke-width="7" stroke-dasharray="16.5 13 16.5 13 16.5 13 19 13 16.5 20"/>
<text class="lg" fill="#000" transform="translate(592,922.9) scale(0.954,1)">Vg=-3V</text>
<line x1="435" y1="977" x2="573" y2="977" stroke="#ff00ff" stroke-width="7" stroke-dasharray="16.5 13 16.5 13 16.5 13 19 13 16.5 20"/>
<text class="lg" fill="#000" transform="translate(592,998.4) scale(0.954,1)">Vg=-5V</text>
<line x1="435" y1="1053" x2="573" y2="1053" stroke="#ff8000" stroke-width="7" stroke-dasharray="16.5 13 16.5 13 16.5 13 19 13 16.5 20"/>
<text class="lg" fill="#000" transform="translate(592,1074.4) scale(0.954,1)">Vg=-7V</text>
<line x1="435" y1="1128.7" x2="573" y2="1128.7" stroke="#0000ff" stroke-width="5.5" stroke-dasharray="16.5 13 16.5 13 16.5 13 19 13 16.5 20"/>
<text class="lg" fill="#000" transform="translate(592,1150.1) scale(0.954,1)">Vg=-10V</text>
</g>
<line x1="1094" y1="705" x2="1071" y2="795" stroke="#000" stroke-width="3.2" stroke-dasharray="3.5 9.5"/>
<polygon points="1062.5,790 1082,794 1063.3,829" fill="#000"/>
<line x1="1113" y1="1056" x2="1139" y2="976" stroke="#000" stroke-width="3.2" stroke-dasharray="3.5 9.5"/>
<polygon points="1131.5,973 1147.5,980.5 1150.5,941" fill="#000"/>
<g class="at">
<text x="1077" y="1677" style="font-size:77px">V</text>
<text x="1126" y="1696.5" class="sub">D</text>
<text x="1177" y="1677">(V)</text>
<text transform="translate(93,868) rotate(-90)" style="font-size:75px">I</text>
<text transform="translate(112,848) rotate(-90)" class="sub">D</text>
<text transform="translate(93,790.5) rotate(-90)" style="font-size:73px">(mA)</text>
</g>
</svg>
</body></html>
